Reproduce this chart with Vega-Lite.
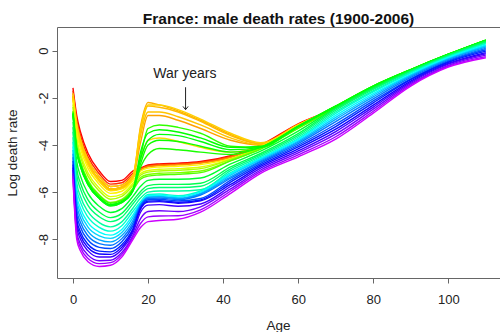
{
"$schema": "https://vega.github.io/schema/vega-lite/v6.json",
"width": 443,
"height": 251,
"autosize": {"type": "none"},
"padding": {"left": 57, "top": 27, "right": 0, "bottom": 54},
"background": "white",
"title": {"text": "France: male death rates (1900-2006)", "fontSize": 15.5, "fontWeight": "bold", "font": "Liberation Sans", "color": "#111", "anchor": "middle", "frame": "group", "offset": 0},
"config": {
  "view": {"stroke": null},
  "font": "Liberation Sans",
  "axis": {"grid": false, "domainColor": "#666", "tickColor": "#666", "tickSize": 5, "labelFontSize": 13, "labelColor": "#222", "titleFontSize": 13.5, "titleFontWeight": "normal", "titleColor": "#222"}
},
"datasets": {
"rates": [
{"yr":1900,"age":0,"m":-1.58},{"yr":1900,"age":1,"m":-2.75},{"yr":1900,"age":2,"m":-3.45},{"yr":1900,"age":4,"m":-4.35},{"yr":1900,"age":7,"m":-5.1},{"yr":1900,"age":10,"m":-5.55},{"yr":1900,"age":13,"m":-5.5},{"yr":1900,"age":16,"m":-5.1},{"yr":1900,"age":18,"m":-4.98},{"yr":1900,"age":20,"m":-4.85},{"yr":1900,"age":23,"m":-4.8},{"yr":1900,"age":28,"m":-4.77},{"yr":1900,"age":34,"m":-4.7},{"yr":1900,"age":42,"m":-4.45},{"yr":1900,"age":50,"m":-4.0},{"yr":1900,"age":60,"m":-3.1},{"yr":1900,"age":70,"m":-2.43},{"yr":1900,"age":80,"m":-1.57},{"yr":1900,"age":90,"m":-0.84},{"yr":1900,"age":100,"m":-0.18},{"yr":1900,"age":110,"m":0.41},
{"yr":1904,"age":0,"m":-1.7},{"yr":1904,"age":1,"m":-2.91},{"yr":1904,"age":2,"m":-3.6},{"yr":1904,"age":4,"m":-4.49},{"yr":1904,"age":7,"m":-5.22},{"yr":1904,"age":10,"m":-5.66},{"yr":1904,"age":13,"m":-5.6},{"yr":1904,"age":16,"m":-5.19},{"yr":1904,"age":18,"m":-5.01},{"yr":1904,"age":20,"m":-4.88},{"yr":1904,"age":23,"m":-4.83},{"yr":1904,"age":28,"m":-4.8},{"yr":1904,"age":34,"m":-4.73},{"yr":1904,"age":42,"m":-4.48},{"yr":1904,"age":50,"m":-4.02},{"yr":1904,"age":60,"m":-3.13},{"yr":1904,"age":70,"m":-2.43},{"yr":1904,"age":80,"m":-1.57},{"yr":1904,"age":90,"m":-0.84},{"yr":1904,"age":100,"m":-0.18},{"yr":1904,"age":110,"m":0.41},
{"yr":1908,"age":0,"m":-1.81},{"yr":1908,"age":1,"m":-3.07},{"yr":1908,"age":2,"m":-3.75},{"yr":1908,"age":4,"m":-4.63},{"yr":1908,"age":7,"m":-5.34},{"yr":1908,"age":10,"m":-5.76},{"yr":1908,"age":13,"m":-5.7},{"yr":1908,"age":16,"m":-5.27},{"yr":1908,"age":18,"m":-5.03},{"yr":1908,"age":20,"m":-4.9},{"yr":1908,"age":23,"m":-4.85},{"yr":1908,"age":28,"m":-4.82},{"yr":1908,"age":34,"m":-4.75},{"yr":1908,"age":42,"m":-4.5},{"yr":1908,"age":50,"m":-4.04},{"yr":1908,"age":60,"m":-3.14},{"yr":1908,"age":70,"m":-2.42},{"yr":1908,"age":80,"m":-1.56},{"yr":1908,"age":90,"m":-0.84},{"yr":1908,"age":100,"m":-0.18},{"yr":1908,"age":110,"m":0.41},
{"yr":1912,"age":0,"m":-1.93},{"yr":1912,"age":1,"m":-3.22},{"yr":1912,"age":2,"m":-3.91},{"yr":1912,"age":4,"m":-4.76},{"yr":1912,"age":7,"m":-5.47},{"yr":1912,"age":10,"m":-5.87},{"yr":1912,"age":13,"m":-5.79},{"yr":1912,"age":16,"m":-5.36},{"yr":1912,"age":18,"m":-5.05},{"yr":1912,"age":20,"m":-4.92},{"yr":1912,"age":23,"m":-4.87},{"yr":1912,"age":28,"m":-4.84},{"yr":1912,"age":34,"m":-4.77},{"yr":1912,"age":42,"m":-4.53},{"yr":1912,"age":50,"m":-4.06},{"yr":1912,"age":60,"m":-3.17},{"yr":1912,"age":70,"m":-2.42},{"yr":1912,"age":80,"m":-1.56},{"yr":1912,"age":90,"m":-0.84},{"yr":1912,"age":100,"m":-0.18},{"yr":1912,"age":110,"m":0.41},
{"yr":1914,"age":0,"m":-1.97},{"yr":1914,"age":1,"m":-3.28},{"yr":1914,"age":2,"m":-3.96},{"yr":1914,"age":4,"m":-4.81},{"yr":1914,"age":7,"m":-5.51},{"yr":1914,"age":10,"m":-5.91},{"yr":1914,"age":13,"m":-5.83},{"yr":1914,"age":16,"m":-5.39},{"yr":1914,"age":18,"m":-3.9},{"yr":1914,"age":20,"m":-2.75},{"yr":1914,"age":23,"m":-2.75},{"yr":1914,"age":28,"m":-2.95},{"yr":1914,"age":34,"m":-3.3},{"yr":1914,"age":42,"m":-3.8},{"yr":1914,"age":50,"m":-4.0},{"yr":1914,"age":60,"m":-3.16},{"yr":1914,"age":70,"m":-2.41},{"yr":1914,"age":80,"m":-1.55},{"yr":1914,"age":90,"m":-0.83},{"yr":1914,"age":100,"m":-0.17},{"yr":1914,"age":110,"m":0.42},
{"yr":1915,"age":0,"m":-1.93},{"yr":1915,"age":1,"m":-3.22},{"yr":1915,"age":2,"m":-3.91},{"yr":1915,"age":4,"m":-4.76},{"yr":1915,"age":7,"m":-5.47},{"yr":1915,"age":10,"m":-5.87},{"yr":1915,"age":13,"m":-5.79},{"yr":1915,"age":16,"m":-5.36},{"yr":1915,"age":18,"m":-3.2},{"yr":1915,"age":20,"m":-2.2},{"yr":1915,"age":23,"m":-2.3},{"yr":1915,"age":28,"m":-2.55},{"yr":1915,"age":34,"m":-2.95},{"yr":1915,"age":42,"m":-3.55},{"yr":1915,"age":50,"m":-3.95},{"yr":1915,"age":60,"m":-3.16},{"yr":1915,"age":70,"m":-2.39},{"yr":1915,"age":80,"m":-1.53},{"yr":1915,"age":90,"m":-0.82},{"yr":1915,"age":100,"m":-0.17},{"yr":1915,"age":110,"m":0.43},
{"yr":1916,"age":0,"m":-1.93},{"yr":1916,"age":1,"m":-3.22},{"yr":1916,"age":2,"m":-3.91},{"yr":1916,"age":4,"m":-4.76},{"yr":1916,"age":7,"m":-5.47},{"yr":1916,"age":10,"m":-5.87},{"yr":1916,"age":13,"m":-5.79},{"yr":1916,"age":16,"m":-5.36},{"yr":1916,"age":18,"m":-3.4},{"yr":1916,"age":20,"m":-2.35},{"yr":1916,"age":23,"m":-2.4},{"yr":1916,"age":28,"m":-2.6},{"yr":1916,"age":34,"m":-3.0},{"yr":1916,"age":42,"m":-3.6},{"yr":1916,"age":50,"m":-3.95},{"yr":1916,"age":60,"m":-3.16},{"yr":1916,"age":70,"m":-2.39},{"yr":1916,"age":80,"m":-1.53},{"yr":1916,"age":90,"m":-0.82},{"yr":1916,"age":100,"m":-0.17},{"yr":1916,"age":110,"m":0.43},
{"yr":1917,"age":0,"m":-1.93},{"yr":1917,"age":1,"m":-3.22},{"yr":1917,"age":2,"m":-3.91},{"yr":1917,"age":4,"m":-4.76},{"yr":1917,"age":7,"m":-5.47},{"yr":1917,"age":10,"m":-5.87},{"yr":1917,"age":13,"m":-5.79},{"yr":1917,"age":16,"m":-5.36},{"yr":1917,"age":18,"m":-3.6},{"yr":1917,"age":20,"m":-2.6},{"yr":1917,"age":23,"m":-2.6},{"yr":1917,"age":28,"m":-2.8},{"yr":1917,"age":34,"m":-3.15},{"yr":1917,"age":42,"m":-3.7},{"yr":1917,"age":50,"m":-4.0},{"yr":1917,"age":60,"m":-3.16},{"yr":1917,"age":70,"m":-2.39},{"yr":1917,"age":80,"m":-1.53},{"yr":1917,"age":90,"m":-0.82},{"yr":1917,"age":100,"m":-0.17},{"yr":1917,"age":110,"m":0.43},
{"yr":1918,"age":0,"m":-1.81},{"yr":1918,"age":1,"m":-3.07},{"yr":1918,"age":2,"m":-3.75},{"yr":1918,"age":4,"m":-4.63},{"yr":1918,"age":7,"m":-5.34},{"yr":1918,"age":10,"m":-5.76},{"yr":1918,"age":13,"m":-5.7},{"yr":1918,"age":16,"m":-5.27},{"yr":1918,"age":18,"m":-3.3},{"yr":1918,"age":20,"m":-2.3},{"yr":1918,"age":23,"m":-2.3},{"yr":1918,"age":28,"m":-2.5},{"yr":1918,"age":34,"m":-2.9},{"yr":1918,"age":42,"m":-3.5},{"yr":1918,"age":50,"m":-3.9},{"yr":1918,"age":60,"m":-3.14},{"yr":1918,"age":70,"m":-2.38},{"yr":1918,"age":80,"m":-1.52},{"yr":1918,"age":90,"m":-0.81},{"yr":1918,"age":100,"m":-0.16},{"yr":1918,"age":110,"m":0.44},
{"yr":1919,"age":0,"m":-2.01},{"yr":1919,"age":1,"m":-3.33},{"yr":1919,"age":2,"m":-4.01},{"yr":1919,"age":4,"m":-4.86},{"yr":1919,"age":7,"m":-5.55},{"yr":1919,"age":10,"m":-5.94},{"yr":1919,"age":13,"m":-5.86},{"yr":1919,"age":16,"m":-5.42},{"yr":1919,"age":18,"m":-4.6},{"yr":1919,"age":20,"m":-3.8},{"yr":1919,"age":23,"m":-3.7},{"yr":1919,"age":28,"m":-3.85},{"yr":1919,"age":34,"m":-4.1},{"yr":1919,"age":42,"m":-4.3},{"yr":1919,"age":50,"m":-4.05},{"yr":1919,"age":60,"m":-3.17},{"yr":1919,"age":70,"m":-2.41},{"yr":1919,"age":80,"m":-1.55},{"yr":1919,"age":90,"m":-0.83},{"yr":1919,"age":100,"m":-0.17},{"yr":1919,"age":110,"m":0.42},
{"yr":1921,"age":0,"m":-2.12},{"yr":1921,"age":1,"m":-3.49},{"yr":1921,"age":2,"m":-4.16},{"yr":1921,"age":4,"m":-4.99},{"yr":1921,"age":7,"m":-5.67},{"yr":1921,"age":10,"m":-6.05},{"yr":1921,"age":13,"m":-5.96},{"yr":1921,"age":16,"m":-5.51},{"yr":1921,"age":18,"m":-5.11},{"yr":1921,"age":20,"m":-4.98},{"yr":1921,"age":23,"m":-4.93},{"yr":1921,"age":28,"m":-4.9},{"yr":1921,"age":34,"m":-4.83},{"yr":1921,"age":42,"m":-4.58},{"yr":1921,"age":50,"m":-4.1},{"yr":1921,"age":60,"m":-3.21},{"yr":1921,"age":70,"m":-2.43},{"yr":1921,"age":80,"m":-1.57},{"yr":1921,"age":90,"m":-0.84},{"yr":1921,"age":100,"m":-0.18},{"yr":1921,"age":110,"m":0.41},
{"yr":1925,"age":0,"m":-2.28},{"yr":1925,"age":1,"m":-3.7},{"yr":1925,"age":2,"m":-4.36},{"yr":1925,"age":4,"m":-5.18},{"yr":1925,"age":7,"m":-5.83},{"yr":1925,"age":10,"m":-6.19},{"yr":1925,"age":13,"m":-6.09},{"yr":1925,"age":16,"m":-5.62},{"yr":1925,"age":18,"m":-5.21},{"yr":1925,"age":20,"m":-5.08},{"yr":1925,"age":23,"m":-5.03},{"yr":1925,"age":28,"m":-5.0},{"yr":1925,"age":34,"m":-4.93},{"yr":1925,"age":42,"m":-4.61},{"yr":1925,"age":50,"m":-4.12},{"yr":1925,"age":60,"m":-3.24},{"yr":1925,"age":70,"m":-2.42},{"yr":1925,"age":80,"m":-1.56},{"yr":1925,"age":90,"m":-0.84},{"yr":1925,"age":100,"m":-0.18},{"yr":1925,"age":110,"m":0.41},
{"yr":1929,"age":0,"m":-2.39},{"yr":1929,"age":1,"m":-3.85},{"yr":1929,"age":2,"m":-4.51},{"yr":1929,"age":4,"m":-5.32},{"yr":1929,"age":7,"m":-5.95},{"yr":1929,"age":10,"m":-6.3},{"yr":1929,"age":13,"m":-6.18},{"yr":1929,"age":16,"m":-5.71},{"yr":1929,"age":18,"m":-5.28},{"yr":1929,"age":20,"m":-5.15},{"yr":1929,"age":23,"m":-5.1},{"yr":1929,"age":28,"m":-5.07},{"yr":1929,"age":34,"m":-5.0},{"yr":1929,"age":42,"m":-4.61},{"yr":1929,"age":50,"m":-4.12},{"yr":1929,"age":60,"m":-3.24},{"yr":1929,"age":70,"m":-2.42},{"yr":1929,"age":80,"m":-1.56},{"yr":1929,"age":90,"m":-0.84},{"yr":1929,"age":100,"m":-0.18},{"yr":1929,"age":110,"m":0.41},
{"yr":1933,"age":0,"m":-2.55},{"yr":1933,"age":1,"m":-4.06},{"yr":1933,"age":2,"m":-4.71},{"yr":1933,"age":4,"m":-5.5},{"yr":1933,"age":7,"m":-6.11},{"yr":1933,"age":10,"m":-6.44},{"yr":1933,"age":13,"m":-6.31},{"yr":1933,"age":16,"m":-5.83},{"yr":1933,"age":18,"m":-5.38},{"yr":1933,"age":20,"m":-5.25},{"yr":1933,"age":23,"m":-5.2},{"yr":1933,"age":28,"m":-5.17},{"yr":1933,"age":34,"m":-5.1},{"yr":1933,"age":42,"m":-4.66},{"yr":1933,"age":50,"m":-4.16},{"yr":1933,"age":60,"m":-3.28},{"yr":1933,"age":70,"m":-2.43},{"yr":1933,"age":80,"m":-1.57},{"yr":1933,"age":90,"m":-0.84},{"yr":1933,"age":100,"m":-0.18},{"yr":1933,"age":110,"m":0.41},
{"yr":1937,"age":0,"m":-2.66},{"yr":1937,"age":1,"m":-4.22},{"yr":1937,"age":2,"m":-4.86},{"yr":1937,"age":4,"m":-5.64},{"yr":1937,"age":7,"m":-6.23},{"yr":1937,"age":10,"m":-6.54},{"yr":1937,"age":13,"m":-6.41},{"yr":1937,"age":16,"m":-5.91},{"yr":1937,"age":18,"m":-5.45},{"yr":1937,"age":20,"m":-5.32},{"yr":1937,"age":23,"m":-5.27},{"yr":1937,"age":28,"m":-5.24},{"yr":1937,"age":34,"m":-5.17},{"yr":1937,"age":42,"m":-4.67},{"yr":1937,"age":50,"m":-4.17},{"yr":1937,"age":60,"m":-3.3},{"yr":1937,"age":70,"m":-2.42},{"yr":1937,"age":80,"m":-1.56},{"yr":1937,"age":90,"m":-0.84},{"yr":1937,"age":100,"m":-0.18},{"yr":1937,"age":110,"m":0.41},
{"yr":1940,"age":0,"m":-2.59},{"yr":1940,"age":1,"m":-4.12},{"yr":1940,"age":2,"m":-4.76},{"yr":1940,"age":4,"m":-5.55},{"yr":1940,"age":7,"m":-6.15},{"yr":1940,"age":10,"m":-6.47},{"yr":1940,"age":13,"m":-6.35},{"yr":1940,"age":16,"m":-5.85},{"yr":1940,"age":18,"m":-4.5},{"yr":1940,"age":20,"m":-3.3},{"yr":1940,"age":23,"m":-3.15},{"yr":1940,"age":28,"m":-3.25},{"yr":1940,"age":34,"m":-3.5},{"yr":1940,"age":42,"m":-4.05},{"yr":1940,"age":50,"m":-4.1},{"yr":1940,"age":60,"m":-3.21},{"yr":1940,"age":70,"m":-2.35},{"yr":1940,"age":80,"m":-1.5},{"yr":1940,"age":90,"m":-0.8},{"yr":1940,"age":100,"m":-0.15},{"yr":1940,"age":110,"m":0.45},
{"yr":1942,"age":0,"m":-2.66},{"yr":1942,"age":1,"m":-4.22},{"yr":1942,"age":2,"m":-4.86},{"yr":1942,"age":4,"m":-5.64},{"yr":1942,"age":7,"m":-6.23},{"yr":1942,"age":10,"m":-6.54},{"yr":1942,"age":13,"m":-6.41},{"yr":1942,"age":16,"m":-5.91},{"yr":1942,"age":18,"m":-4.95},{"yr":1942,"age":20,"m":-4.4},{"yr":1942,"age":23,"m":-4.15},{"yr":1942,"age":28,"m":-4.2},{"yr":1942,"age":34,"m":-4.3},{"yr":1942,"age":42,"m":-4.4},{"yr":1942,"age":50,"m":-4.1},{"yr":1942,"age":60,"m":-3.21},{"yr":1942,"age":70,"m":-2.35},{"yr":1942,"age":80,"m":-1.5},{"yr":1942,"age":90,"m":-0.8},{"yr":1942,"age":100,"m":-0.15},{"yr":1942,"age":110,"m":0.45},
{"yr":1943,"age":0,"m":-2.7},{"yr":1943,"age":1,"m":-4.27},{"yr":1943,"age":2,"m":-4.92},{"yr":1943,"age":4,"m":-5.68},{"yr":1943,"age":7,"m":-6.27},{"yr":1943,"age":10,"m":-6.58},{"yr":1943,"age":13,"m":-6.44},{"yr":1943,"age":16,"m":-5.94},{"yr":1943,"age":18,"m":-4.8},{"yr":1943,"age":20,"m":-4.0},{"yr":1943,"age":23,"m":-3.8},{"yr":1943,"age":28,"m":-3.85},{"yr":1943,"age":34,"m":-4.05},{"yr":1943,"age":42,"m":-4.3},{"yr":1943,"age":50,"m":-4.1},{"yr":1943,"age":60,"m":-3.21},{"yr":1943,"age":70,"m":-2.35},{"yr":1943,"age":80,"m":-1.5},{"yr":1943,"age":90,"m":-0.8},{"yr":1943,"age":100,"m":-0.15},{"yr":1943,"age":110,"m":0.45},
{"yr":1944,"age":0,"m":-2.66},{"yr":1944,"age":1,"m":-4.22},{"yr":1944,"age":2,"m":-4.86},{"yr":1944,"age":4,"m":-5.64},{"yr":1944,"age":7,"m":-6.23},{"yr":1944,"age":10,"m":-6.54},{"yr":1944,"age":13,"m":-6.41},{"yr":1944,"age":16,"m":-5.91},{"yr":1944,"age":18,"m":-4.3},{"yr":1944,"age":20,"m":-3.5},{"yr":1944,"age":23,"m":-3.35},{"yr":1944,"age":28,"m":-3.45},{"yr":1944,"age":34,"m":-3.7},{"yr":1944,"age":42,"m":-4.1},{"yr":1944,"age":50,"m":-4.05},{"yr":1944,"age":60,"m":-3.2},{"yr":1944,"age":70,"m":-2.35},{"yr":1944,"age":80,"m":-1.5},{"yr":1944,"age":90,"m":-0.8},{"yr":1944,"age":100,"m":-0.15},{"yr":1944,"age":110,"m":0.45},
{"yr":1945,"age":0,"m":-2.7},{"yr":1945,"age":1,"m":-4.27},{"yr":1945,"age":2,"m":-4.92},{"yr":1945,"age":4,"m":-5.68},{"yr":1945,"age":7,"m":-6.27},{"yr":1945,"age":10,"m":-6.58},{"yr":1945,"age":13,"m":-6.44},{"yr":1945,"age":16,"m":-5.94},{"yr":1945,"age":18,"m":-4.6},{"yr":1945,"age":20,"m":-3.8},{"yr":1945,"age":23,"m":-3.55},{"yr":1945,"age":28,"m":-3.6},{"yr":1945,"age":34,"m":-3.85},{"yr":1945,"age":42,"m":-4.2},{"yr":1945,"age":50,"m":-4.1},{"yr":1945,"age":60,"m":-3.23},{"yr":1945,"age":70,"m":-2.38},{"yr":1945,"age":80,"m":-1.52},{"yr":1945,"age":90,"m":-0.81},{"yr":1945,"age":100,"m":-0.16},{"yr":1945,"age":110,"m":0.44},
{"yr":1948,"age":0,"m":-3.01},{"yr":1948,"age":1,"m":-4.69},{"yr":1948,"age":2,"m":-5.32},{"yr":1948,"age":4,"m":-6.05},{"yr":1948,"age":7,"m":-6.6},{"yr":1948,"age":10,"m":-6.86},{"yr":1948,"age":13,"m":-6.7},{"yr":1948,"age":16,"m":-6.17},{"yr":1948,"age":18,"m":-5.75},{"yr":1948,"age":20,"m":-5.5},{"yr":1948,"age":23,"m":-5.45},{"yr":1948,"age":28,"m":-5.45},{"yr":1948,"age":34,"m":-5.4},{"yr":1948,"age":42,"m":-4.8},{"yr":1948,"age":50,"m":-4.26},{"yr":1948,"age":60,"m":-3.41},{"yr":1948,"age":70,"m":-2.43},{"yr":1948,"age":80,"m":-1.57},{"yr":1948,"age":90,"m":-0.84},{"yr":1948,"age":100,"m":-0.18},{"yr":1948,"age":110,"m":0.41},
{"yr":1951,"age":0,"m":-3.24},{"yr":1951,"age":1,"m":-5.01},{"yr":1951,"age":2,"m":-5.62},{"yr":1951,"age":4,"m":-6.33},{"yr":1951,"age":7,"m":-6.84},{"yr":1951,"age":10,"m":-7.08},{"yr":1951,"age":13,"m":-6.9},{"yr":1951,"age":16,"m":-6.35},{"yr":1951,"age":18,"m":-5.97},{"yr":1951,"age":20,"m":-5.72},{"yr":1951,"age":23,"m":-5.67},{"yr":1951,"age":28,"m":-5.67},{"yr":1951,"age":34,"m":-5.62},{"yr":1951,"age":42,"m":-4.93},{"yr":1951,"age":50,"m":-4.36},{"yr":1951,"age":60,"m":-3.52},{"yr":1951,"age":70,"m":-2.46},{"yr":1951,"age":80,"m":-1.59},{"yr":1951,"age":90,"m":-0.86},{"yr":1951,"age":100,"m":-0.19},{"yr":1951,"age":110,"m":0.39},
{"yr":1954,"age":0,"m":-3.44},{"yr":1954,"age":1,"m":-5.27},{"yr":1954,"age":2,"m":-5.87},{"yr":1954,"age":4,"m":-6.56},{"yr":1954,"age":7,"m":-7.04},{"yr":1954,"age":10,"m":-7.25},{"yr":1954,"age":13,"m":-7.06},{"yr":1954,"age":16,"m":-6.49},{"yr":1954,"age":18,"m":-6.1},{"yr":1954,"age":20,"m":-5.85},{"yr":1954,"age":23,"m":-5.8},{"yr":1954,"age":28,"m":-5.8},{"yr":1954,"age":34,"m":-5.75},{"yr":1954,"age":42,"m":-5.01},{"yr":1954,"age":50,"m":-4.42},{"yr":1954,"age":60,"m":-3.59},{"yr":1954,"age":70,"m":-2.52},{"yr":1954,"age":80,"m":-1.64},{"yr":1954,"age":90,"m":-0.88},{"yr":1954,"age":100,"m":-0.22},{"yr":1954,"age":110,"m":0.36},
{"yr":1958,"age":0,"m":-3.67},{"yr":1958,"age":1,"m":-5.59},{"yr":1958,"age":2,"m":-6.18},{"yr":1958,"age":4,"m":-6.83},{"yr":1958,"age":7,"m":-7.29},{"yr":1958,"age":10,"m":-7.47},{"yr":1958,"age":13,"m":-7.26},{"yr":1958,"age":16,"m":-6.67},{"yr":1958,"age":18,"m":-6.25},{"yr":1958,"age":20,"m":-6.0},{"yr":1958,"age":23,"m":-5.95},{"yr":1958,"age":28,"m":-5.95},{"yr":1958,"age":34,"m":-5.9},{"yr":1958,"age":42,"m":-5.09},{"yr":1958,"age":50,"m":-4.48},{"yr":1958,"age":60,"m":-3.66},{"yr":1958,"age":70,"m":-2.59},{"yr":1958,"age":80,"m":-1.7},{"yr":1958,"age":90,"m":-0.92},{"yr":1958,"age":100,"m":-0.24},{"yr":1958,"age":110,"m":0.32},
{"yr":1962,"age":0,"m":-3.86},{"yr":1962,"age":1,"m":-5.85},{"yr":1962,"age":2,"m":-6.43},{"yr":1962,"age":4,"m":-7.06},{"yr":1962,"age":7,"m":-7.49},{"yr":1962,"age":10,"m":-7.65},{"yr":1962,"age":13,"m":-7.42},{"yr":1962,"age":16,"m":-6.81},{"yr":1962,"age":18,"m":-6.4},{"yr":1962,"age":20,"m":-6.1},{"yr":1962,"age":23,"m":-6.08},{"yr":1962,"age":28,"m":-6.15},{"yr":1962,"age":34,"m":-5.95},{"yr":1962,"age":42,"m":-5.17},{"yr":1962,"age":50,"m":-4.54},{"yr":1962,"age":60,"m":-3.73},{"yr":1962,"age":70,"m":-2.66},{"yr":1962,"age":80,"m":-1.75},{"yr":1962,"age":90,"m":-0.95},{"yr":1962,"age":100,"m":-0.27},{"yr":1962,"age":110,"m":0.29},
{"yr":1966,"age":0,"m":-4.06},{"yr":1966,"age":1,"m":-6.11},{"yr":1966,"age":2,"m":-6.68},{"yr":1966,"age":4,"m":-7.29},{"yr":1966,"age":7,"m":-7.69},{"yr":1966,"age":10,"m":-7.82},{"yr":1966,"age":13,"m":-7.58},{"yr":1966,"age":16,"m":-6.96},{"yr":1966,"age":18,"m":-6.45},{"yr":1966,"age":20,"m":-6.15},{"yr":1966,"age":23,"m":-6.13},{"yr":1966,"age":28,"m":-6.2},{"yr":1966,"age":34,"m":-6.0},{"yr":1966,"age":42,"m":-5.22},{"yr":1966,"age":50,"m":-4.58},{"yr":1966,"age":60,"m":-3.77},{"yr":1966,"age":70,"m":-2.74},{"yr":1966,"age":80,"m":-1.82},{"yr":1966,"age":90,"m":-1.0},{"yr":1966,"age":100,"m":-0.3},{"yr":1966,"age":110,"m":0.24},
{"yr":1970,"age":0,"m":-4.21},{"yr":1970,"age":1,"m":-6.32},{"yr":1970,"age":2,"m":-6.88},{"yr":1970,"age":4,"m":-7.48},{"yr":1970,"age":7,"m":-7.85},{"yr":1970,"age":10,"m":-7.96},{"yr":1970,"age":13,"m":-7.71},{"yr":1970,"age":16,"m":-7.07},{"yr":1970,"age":18,"m":-6.5},{"yr":1970,"age":20,"m":-6.2},{"yr":1970,"age":23,"m":-6.18},{"yr":1970,"age":28,"m":-6.25},{"yr":1970,"age":34,"m":-6.05},{"yr":1970,"age":42,"m":-5.28},{"yr":1970,"age":50,"m":-4.62},{"yr":1970,"age":60,"m":-3.83},{"yr":1970,"age":70,"m":-2.83},{"yr":1970,"age":80,"m":-1.89},{"yr":1970,"age":90,"m":-1.04},{"yr":1970,"age":100,"m":-0.34},{"yr":1970,"age":110,"m":0.2},
{"yr":1974,"age":0,"m":-4.37},{"yr":1974,"age":1,"m":-6.53},{"yr":1974,"age":2,"m":-7.09},{"yr":1974,"age":4,"m":-7.66},{"yr":1974,"age":7,"m":-8.02},{"yr":1974,"age":10,"m":-8.11},{"yr":1974,"age":13,"m":-7.84},{"yr":1974,"age":16,"m":-7.19},{"yr":1974,"age":18,"m":-6.52},{"yr":1974,"age":20,"m":-6.22},{"yr":1974,"age":23,"m":-6.2},{"yr":1974,"age":28,"m":-6.27},{"yr":1974,"age":34,"m":-6.07},{"yr":1974,"age":42,"m":-5.35},{"yr":1974,"age":50,"m":-4.67},{"yr":1974,"age":60,"m":-3.88},{"yr":1974,"age":70,"m":-2.91},{"yr":1974,"age":80,"m":-1.96},{"yr":1974,"age":90,"m":-1.08},{"yr":1974,"age":100,"m":-0.37},{"yr":1974,"age":110,"m":0.15},
{"yr":1978,"age":0,"m":-4.52},{"yr":1978,"age":1,"m":-6.74},{"yr":1978,"age":2,"m":-7.29},{"yr":1978,"age":4,"m":-7.85},{"yr":1978,"age":7,"m":-8.18},{"yr":1978,"age":10,"m":-8.25},{"yr":1978,"age":13,"m":-7.97},{"yr":1978,"age":16,"m":-7.3},{"yr":1978,"age":18,"m":-6.57},{"yr":1978,"age":20,"m":-6.27},{"yr":1978,"age":23,"m":-6.25},{"yr":1978,"age":28,"m":-6.32},{"yr":1978,"age":34,"m":-6.12},{"yr":1978,"age":42,"m":-5.41},{"yr":1978,"age":50,"m":-4.72},{"yr":1978,"age":60,"m":-3.94},{"yr":1978,"age":70,"m":-3.01},{"yr":1978,"age":80,"m":-2.04},{"yr":1978,"age":90,"m":-1.13},{"yr":1978,"age":100,"m":-0.41},{"yr":1978,"age":110,"m":0.1},
{"yr":1982,"age":0,"m":-4.68},{"yr":1982,"age":1,"m":-6.95},{"yr":1982,"age":2,"m":-7.49},{"yr":1982,"age":4,"m":-8.03},{"yr":1982,"age":7,"m":-8.34},{"yr":1982,"age":10,"m":-8.39},{"yr":1982,"age":13,"m":-8.1},{"yr":1982,"age":16,"m":-7.42},{"yr":1982,"age":18,"m":-6.62},{"yr":1982,"age":20,"m":-6.32},{"yr":1982,"age":23,"m":-6.3},{"yr":1982,"age":28,"m":-6.37},{"yr":1982,"age":34,"m":-6.27},{"yr":1982,"age":42,"m":-5.49},{"yr":1982,"age":50,"m":-4.78},{"yr":1982,"age":60,"m":-4.01},{"yr":1982,"age":70,"m":-3.12},{"yr":1982,"age":80,"m":-2.13},{"yr":1982,"age":90,"m":-1.19},{"yr":1982,"age":100,"m":-0.45},{"yr":1982,"age":110,"m":0.04},
{"yr":1986,"age":0,"m":-4.83},{"yr":1986,"age":1,"m":-7.16},{"yr":1986,"age":2,"m":-7.69},{"yr":1986,"age":4,"m":-8.21},{"yr":1986,"age":7,"m":-8.5},{"yr":1986,"age":10,"m":-8.53},{"yr":1986,"age":13,"m":-8.23},{"yr":1986,"age":16,"m":-7.54},{"yr":1986,"age":18,"m":-6.68},{"yr":1986,"age":20,"m":-6.38},{"yr":1986,"age":23,"m":-6.36},{"yr":1986,"age":28,"m":-6.43},{"yr":1986,"age":34,"m":-6.33},{"yr":1986,"age":42,"m":-5.57},{"yr":1986,"age":50,"m":-4.84},{"yr":1986,"age":60,"m":-4.08},{"yr":1986,"age":70,"m":-3.22},{"yr":1986,"age":80,"m":-2.21},{"yr":1986,"age":90,"m":-1.23},{"yr":1986,"age":100,"m":-0.49},{"yr":1986,"age":110,"m":-0.02},
{"yr":1990,"age":0,"m":-4.95},{"yr":1990,"age":1,"m":-7.32},{"yr":1990,"age":2,"m":-7.84},{"yr":1990,"age":4,"m":-8.35},{"yr":1990,"age":7,"m":-8.62},{"yr":1990,"age":10,"m":-8.64},{"yr":1990,"age":13,"m":-8.33},{"yr":1990,"age":16,"m":-7.62},{"yr":1990,"age":18,"m":-6.72},{"yr":1990,"age":20,"m":-6.42},{"yr":1990,"age":23,"m":-6.4},{"yr":1990,"age":28,"m":-6.47},{"yr":1990,"age":34,"m":-6.37},{"yr":1990,"age":42,"m":-5.67},{"yr":1990,"age":50,"m":-4.91},{"yr":1990,"age":60,"m":-4.16},{"yr":1990,"age":70,"m":-3.33},{"yr":1990,"age":80,"m":-2.31},{"yr":1990,"age":90,"m":-1.29},{"yr":1990,"age":100,"m":-0.54},{"yr":1990,"age":110,"m":-0.08},
{"yr":1994,"age":0,"m":-5.06},{"yr":1994,"age":1,"m":-7.48},{"yr":1994,"age":2,"m":-8.0},{"yr":1994,"age":4,"m":-8.49},{"yr":1994,"age":7,"m":-8.75},{"yr":1994,"age":10,"m":-8.75},{"yr":1994,"age":13,"m":-8.43},{"yr":1994,"age":16,"m":-7.71},{"yr":1994,"age":18,"m":-6.85},{"yr":1994,"age":20,"m":-6.55},{"yr":1994,"age":23,"m":-6.53},{"yr":1994,"age":28,"m":-6.6},{"yr":1994,"age":34,"m":-6.5},{"yr":1994,"age":42,"m":-5.76},{"yr":1994,"age":50,"m":-4.98},{"yr":1994,"age":60,"m":-4.25},{"yr":1994,"age":70,"m":-3.43},{"yr":1994,"age":80,"m":-2.39},{"yr":1994,"age":90,"m":-1.34},{"yr":1994,"age":100,"m":-0.57},{"yr":1994,"age":110,"m":-0.13},
{"yr":1998,"age":0,"m":-5.22},{"yr":1998,"age":1,"m":-7.69},{"yr":1998,"age":2,"m":-8.2},{"yr":1998,"age":4,"m":-8.67},{"yr":1998,"age":7,"m":-8.91},{"yr":1998,"age":10,"m":-8.89},{"yr":1998,"age":13,"m":-8.56},{"yr":1998,"age":16,"m":-7.83},{"yr":1998,"age":18,"m":-7.12},{"yr":1998,"age":20,"m":-6.82},{"yr":1998,"age":23,"m":-6.79},{"yr":1998,"age":28,"m":-6.82},{"yr":1998,"age":34,"m":-6.62},{"yr":1998,"age":42,"m":-5.86},{"yr":1998,"age":50,"m":-5.06},{"yr":1998,"age":60,"m":-4.33},{"yr":1998,"age":70,"m":-3.54},{"yr":1998,"age":80,"m":-2.48},{"yr":1998,"age":90,"m":-1.4},{"yr":1998,"age":100,"m":-0.62},{"yr":1998,"age":110,"m":-0.19},
{"yr":2002,"age":0,"m":-5.33},{"yr":2002,"age":1,"m":-7.84},{"yr":2002,"age":2,"m":-8.35},{"yr":2002,"age":4,"m":-8.81},{"yr":2002,"age":7,"m":-9.03},{"yr":2002,"age":10,"m":-8.99},{"yr":2002,"age":13,"m":-8.65},{"yr":2002,"age":16,"m":-7.91},{"yr":2002,"age":18,"m":-7.33},{"yr":2002,"age":20,"m":-7.05},{"yr":2002,"age":23,"m":-7.01},{"yr":2002,"age":28,"m":-7.0},{"yr":2002,"age":34,"m":-6.75},{"yr":2002,"age":42,"m":-5.95},{"yr":2002,"age":50,"m":-5.13},{"yr":2002,"age":60,"m":-4.42},{"yr":2002,"age":70,"m":-3.65},{"yr":2002,"age":80,"m":-2.57},{"yr":2002,"age":90,"m":-1.45},{"yr":2002,"age":100,"m":-0.66},{"yr":2002,"age":110,"m":-0.25},
{"yr":2006,"age":0,"m":-5.45},{"yr":2006,"age":1,"m":-8.0},{"yr":2006,"age":2,"m":-8.5},{"yr":2006,"age":4,"m":-8.95},{"yr":2006,"age":7,"m":-9.15},{"yr":2006,"age":10,"m":-9.1},{"yr":2006,"age":13,"m":-8.75},{"yr":2006,"age":16,"m":-8.0},{"yr":2006,"age":18,"m":-7.5},{"yr":2006,"age":20,"m":-7.25},{"yr":2006,"age":23,"m":-7.2},{"yr":2006,"age":28,"m":-7.15},{"yr":2006,"age":34,"m":-6.85},{"yr":2006,"age":42,"m":-6.05},{"yr":2006,"age":50,"m":-5.2},{"yr":2006,"age":60,"m":-4.5},{"yr":2006,"age":70,"m":-3.75},{"yr":2006,"age":80,"m":-2.65},{"yr":2006,"age":90,"m":-1.5},{"yr":2006,"age":100,"m":-0.7},{"yr":2006,"age":110,"m":-0.3}
],
"note": [{"age": 29.8, "m": -1.17, "label": "War years"}],
"arrow": [{"age": 30, "m": -1.55, "m2": -2.5}]
},
"resolve": {"axis": {"x": "independent", "y": "independent"}},
"layer": [
  {
    "data": {"name": "rates"},
    "mark": {"type": "line", "interpolate": "monotone", "strokeWidth": 1.4, "clip": true},
    "encoding": {
      "x": {"field": "age", "type": "quantitative", "scale": {"domain": [-4.26, 113.78], "nice": false, "zero": false},
        "axis": {"orient": "bottom", "values": [0, 20, 40, 60, 80, 100], "labelPadding": 20, "labelBaseline": "alphabetic", "title": "Age", "titleX": 221, "titleY": 51, "titleBaseline": "alphabetic", "titleAlign": "center"}},
      "y": {"field": "m", "type": "quantitative", "scale": {"domain": [-9.64, 1.005], "nice": false, "zero": false},
        "axis": {"orient": "left", "values": [-8, -6, -4, -2, 0], "labelExpr": "'' + datum.value", "labelAngle": -90, "labelAlign": "center", "labelBaseline": "alphabetic", "labelPadding": 5, "title": "Log death rate", "titleX": -40.5, "titleY": 125.5, "titleAngle": -90, "titleAlign": "center", "titleBaseline": "alphabetic"}},
      "color": {"field": "yr", "type": "quantitative", "legend": null,
        "scale": {"domain": [1900, 1922.08, 1944.17, 1966.25, 1988.33, 2006], "range": ["#ff0000", "#ffff00", "#00ff00", "#00ffff", "#0000ff", "#cc00ff"], "interpolate": "rgb"}},
      "detail": {"field": "yr", "type": "quantitative"}
    }
  },
  {
    "data": {"name": "note"},
    "mark": {"type": "text", "fontSize": 14, "baseline": "alphabetic", "align": "center", "color": "#222"},
    "encoding": {
      "x": {"field": "age", "type": "quantitative", "scale": {"domain": [-4.26, 113.78], "nice": false, "zero": false},
        "axis": {"orient": "top", "domain": true, "ticks": false, "labels": false, "title": null}},
      "y": {"field": "m", "type": "quantitative", "scale": {"domain": [-9.64, 1.005], "nice": false, "zero": false}, "axis": null},
      "text": {"field": "label"}
    }
  },
  {
    "data": {"name": "arrow"},
    "mark": {"type": "rule", "color": "#222", "strokeWidth": 1},
    "encoding": {
      "x": {"field": "age", "type": "quantitative", "scale": {"domain": [-4.26, 113.78], "nice": false, "zero": false}, "axis": null},
      "y": {"field": "m", "type": "quantitative", "scale": {"domain": [-9.64, 1.005], "nice": false, "zero": false}, "axis": null},
      "y2": {"field": "m2"}
    }
  },
  {
    "data": {"name": "arrow"},
    "mark": {"type": "point", "shape": "M-0.8,-1L0,0L0.8,-1", "filled": false, "color": "#222", "strokeWidth": 1, "size": 42, "opacity": 1},
    "encoding": {
      "x": {"field": "age", "type": "quantitative", "scale": {"domain": [-4.26, 113.78], "nice": false, "zero": false}, "axis": null},
      "y": {"field": "m2", "type": "quantitative", "scale": {"domain": [-9.64, 1.005], "nice": false, "zero": false}, "axis": null}
    }
  }
]
}
